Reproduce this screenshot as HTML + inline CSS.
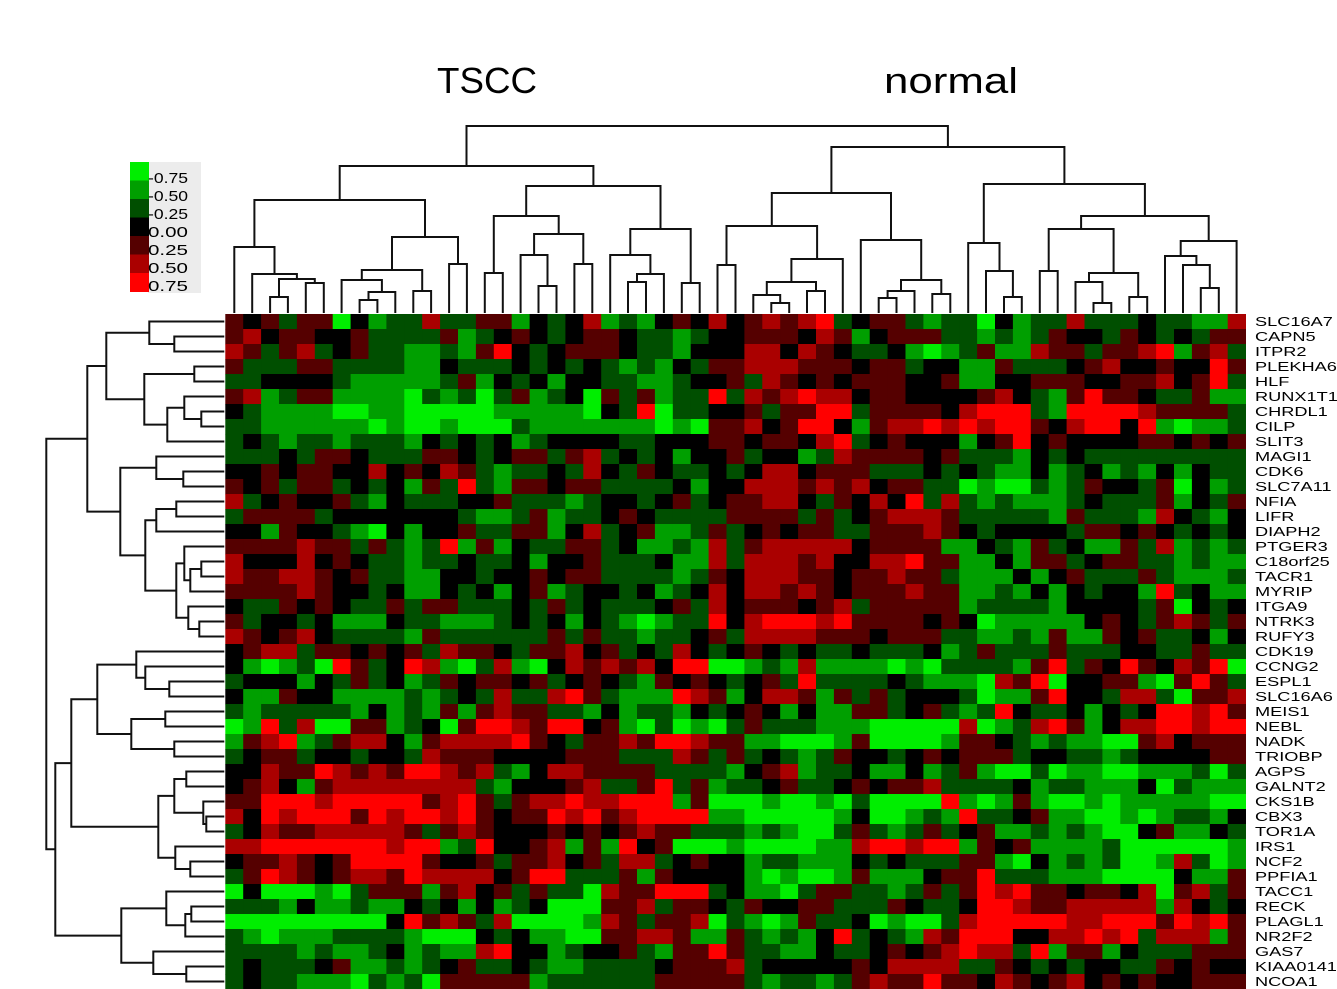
<!DOCTYPE html>
<html><head><meta charset="utf-8"><title>TSCC vs normal heatmap</title>
<style>
html,body{margin:0;padding:0;background:#fff;}
svg{display:block;font-family:"Liberation Sans",Arial,sans-serif;}
</style></head>
<body>
<svg id="chart" width="1337" height="989" viewBox="0 0 1337 989" xmlns="http://www.w3.org/2000/svg">
  <text x="437" y="93" font-size="36" textLength="100" lengthAdjust="spacingAndGlyphs" fill="#000">TSCC</text>
  <text x="884" y="93" font-size="36" textLength="134" lengthAdjust="spacingAndGlyphs" fill="#000">normal</text>
  <g id="legend"></g>
  <g id="cells"></g>
  <g id="topdend"></g>
  <g id="leftdend"></g>
  <g id="labels"></g>
</svg>
<script>
// ---- data ----
const genes = ["SLC16A7","CAPN5","ITPR2","PLEKHA6","HLF","RUNX1T1","CHRDL1","CILP","SLIT3","MAGI1","CDK6","SLC7A11","NFIA","LIFR","DIAPH2","PTGER3","C18orf25","TACR1","MYRIP","ITGA9","NTRK3","RUFY3","CDK19","CCNG2","ESPL1","SLC16A6","MEIS1","NEBL","NADK","TRIOBP","AGPS","GALNT2","CKS1B","CBX3","TOR1A","IRS1","NCF2","PPFIA1","TACC1","RECK","PLAGL1","NR2F2","GAS7","KIAA0141","NCOA1"];
// each digit d encodes expression value (d-4)*0.25
const rowCodes = [
"5453551423363355243462324546"+"45656734553233142336333433226",
"5645544533335234543455433234"+"45554652455533232354435434355",
"6535634533223257434555433244"+"46646543342123522655355672563",
"5333553333224333434343232435"+"56665554553442253334564454475",
"3344443222223524342443322344"+"53654545554452244555445564573",
"5623552222132313523415352337"+"36567664554444564325755433522",
"4322221122111112222214371334"+"45355773555546777327777655553",
"3322222212112111322222221215"+"56457742566767677546774721223",
"3432332333243434234444334445"+"54554673454442457454444554545",
"3334355433355434553563434244"+"53442365555453332434333333333",
"4454554464546532334364354334"+"34664555333434322423423242433",
"5453553434253732554553333424"+"46665656455331211323544351423",
"6345445324333445333234434534"+"55664354647363232223433352435",
"3555534444444322352334543333"+"55553534566653333325333264324",
"4425443214244533552463452235"+"34545533555654344443554543434",
"5555655353237252433553422326"+"35666664555522432534225362323",
"6444645433233433424453334226"+"36665644667552242553455332322",
"6556654533224434454553333235"+"46665545565532224245333532223",
"5555654434224342452344342346"+"46656545556552232424344273422",
"4335454335355333435343334536"+"45554563555552333324444351434",
"5344342224332223434243212337"+"46777675555454122222454356535",
"6545643333253333335353323345"+"36666555455533223252254533424",
"4566355454536554355645343643"+"45434334333423533353334433533",
"4212317534762136214656564771"+"12326222212133332573547546571",
"3444243534235455453454325454"+"34537333343222165714455215753",
"4225442222323436336753222765"+"24665253534443122574436631556",
"3233333242325256553324233243"+"45424225534532374334243477675",
"1273611552341577657745213121"+"35333222111116123675246677677",
"2567235664256666754355657765"+"52211125111125543232211564555",
"3455344344365554444555333653"+"53432354434545553443323444455",
"4465576565776563246655553333"+"24562334224235211312211222313",
"4564256666666632444563357352"+"33453345455633334233222413222",
"5577767777756753566766777251"+"11211213111172125211212222211",
"6476777576776754557675677772"+"21111124112327334522112123324",
"3465566666535654445454565533"+"32321135323534522323211452243",
"6677777776772374456252745111"+"21111226776772545222231111112",
"4556545777754453556453663454"+"42332224343335521423231126312",
"3576545665766664577333525444"+"42121125222455733322211114225",
"1411121355525645353316557773"+"42213553323535767554554615635",
"3332422322434242341115563554"+"35445533354334776556666626434",
"1111111114756536111126535561"+"32125334121136777776677757675",
"3212223333211143422115566522"+"53232473432657774466767366625",
"3333232234232267442344532557"+"53322433454567663725524333555",
"3433345223234533432233334555"+"63444445466663354343443354544",
"3433222132315555523333335555"+"53233235655755465456454544555"
];
const legendValues = [-0.75,-0.5,-0.25,0,0.25,0.5,0.75];
const legendLabels = ["-0.75","-0.50","-0.25","0.00","0.25","0.50","0.75"];
// column dendrogram: [mergeHeight, left, right]; leaves = column indices
const colTree = [187,
  [147,
    [113, [66,0,[39,1,[34,[16,2,3],[30,4,5]]]],
          [76,[43,[33,6,[21,[13,7,8],9]],[22,10,11]],[49,12,13]]],
    [127, [97,[40,14,15],[79,[58,16,[27,17,18]],[49,19,20]]],
          [84,[58,21,[39,[31,22,23],24]],[30,25,26]]]],
  [166,
    [120, [87,[48,27,28],[54,[31,[18,29,[10,30,31]],[22,32,33]],34]],
          [73,35,[33,[22,[15,36,37],38],[19,39,40]]]],
    [129, [70,41,[42,42,[16,43,44]]],
          [97,[84,[42,45,46],[40,[31,47,[10,48,49]],[16,50,51]]],
              [72,[57,52,[48,53,[25,54,55]]],56]]]]];
// row dendrogram
const rowTree = [178,
  [137,
    [118,[75,0,[50,1,2]],[80,[30,3,4],[57,[40,5,[23,6,7]],8]]],
    [104,[68,9,[41,10,11]],[79,[68,[48,12,13],14],[48,[40,15,[34,[23,16,17],18]],[36,19,[25,20,21]]]]]],
  [169,
    [153,[127,[88,22,[79,23,[55,24,25]]],[93,[59,26,27],[50,28,29]]],
         [66,[50,[38,30,31],[21,32,[18,33,34]]],[49,35,[34,36,37]]]],
    [103,[58,38,[39,[33,39,40],41]],[71,42,[38,43,44]]]]];

// ---- geometry ----
const NS="http://www.w3.org/2000/svg";
const X0=225.3, Y0=314, CW=17.9, RH=15;
const nCols=57;
function xScale(c){return X0+CW*c;}
function yScale(r){return Y0+RH*r;}
function colorOf(v){
  if(v<0){return "rgb(0,"+Math.round(Math.min(1,-v/0.75)*238)+",0)";}
  return "rgb("+Math.round(Math.min(1,v/0.75)*255)+",0,0)";
}
function mk(tag,attrs,parent){const e=document.createElementNS(NS,tag);for(const k in attrs)e.setAttribute(k,attrs[k]);parent.appendChild(e);return e;}

// cells
const gc=document.getElementById('cells');
rowCodes.forEach((code,r)=>{
  for(let c=0;c<nCols;c++){
    const d=parseInt(code[c]||"4",10);
    const v=(d-4)*0.25;
    const x1=xScale(c), x2=xScale(c+1);
    const rect=mk('rect',{x:x1.toFixed(2),y:yScale(r),width:(x2-x1+0.4).toFixed(2),height:RH+0.4,fill:colorOf(v)},gc);
    
    
  }
});

// labels
const gl=document.getElementById('labels');
genes.forEach((g,r)=>{
  const t=mk('text',{transform:"translate(1255,"+(yScale(r)+12)+") scale(1.4,1)","font-size":"13",fill:"#000"},gl);
  t.textContent=g;
  
  
});

// dendrograms
function drawTree(node,g,leafPos,toXY){
  if(typeof node==="number"){return {p:leafPos(node),h:0};}
  const a=drawTree(node[1],g,leafPos,toXY), b=drawTree(node[2],g,leafPos,toXY), h=node[0];
  const pts=[toXY(a.p,a.h),toXY(a.p,h),toXY(b.p,h),toXY(b.p,b.h)];
  const pl=mk('polyline',{points:pts.map(q=>q.join(',')).join(' '),fill:"none",stroke:"#111","stroke-width":"2"},g);
  
  
  return {p:(a.p+b.p)/2,h:h};
}
drawTree(colTree,document.getElementById('topdend'),c=>xScale(c)+CW/2,(p,h)=>[p.toFixed(1),(Y0-1-h).toFixed(1)]);
drawTree(rowTree,document.getElementById('leftdend'),r=>yScale(r)+RH/2,(p,h)=>[(X0-1-h).toFixed(1),p.toFixed(1)]);

// legend
const lg=document.getElementById('legend');
const bg=mk('rect',{x:148,y:162,width:53,height:131,fill:"#ececec"},lg);


legendValues.forEach((v,i)=>{
  const sw=mk('rect',{x:130,y:162+i*18.5,width:19,height:19,fill:colorOf(v)},lg);
  
  
  const t=mk('text',{x:148,y:183+i*18,"font-size":"15",fill:"#000",textLength:"40",lengthAdjust:"spacingAndGlyphs"},lg);
  t.textContent=legendLabels[i];
  
  
});
</script>
</body></html>
